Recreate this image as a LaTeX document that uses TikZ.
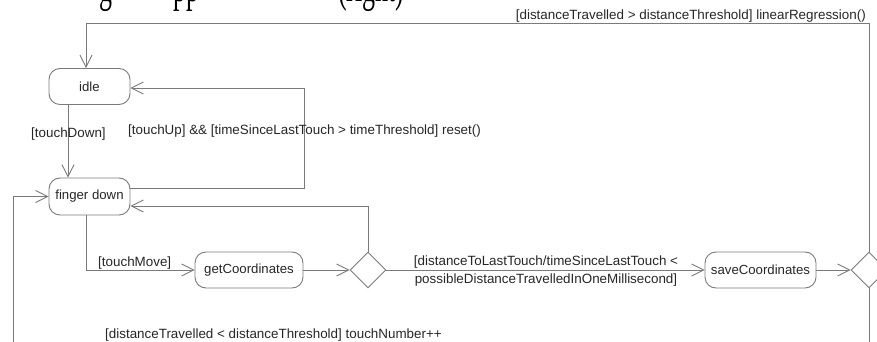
\documentclass[tikz,border=0pt]{standalone}
\usepackage{fontspec}
\setmainfont{Liberation Sans}
\newfontfamily\capfont{Liberation Serif}
\usetikzlibrary{arrows.meta,shapes.geometric}
\definecolor{linegray}{HTML}{7A7A7A}
\definecolor{txt}{HTML}{262626}
\begin{document}
\begin{tikzpicture}[x=1pt,y=-1pt,
  lbl/.style={font=\fontsize{13.4}{18}\selectfont, text=txt, inner sep=0pt},
  state/.style={draw=linegray, line width=0.9pt, rounded corners=11pt,
    minimum height=36pt, inner sep=0pt, font=\fontsize{13.2}{15}\selectfont, text=txt},
  choice/.style={diamond, draw=linegray, line width=0.9pt,
    minimum width=36pt, minimum height=36pt, inner sep=0pt},
  arr/.style={draw=linegray, line width=0.9pt,
    -{Straight Barb[length=12pt,width=12pt,line width=0.9pt]}},
  captail/.style={font=\capfont\fontsize{26}{26}\selectfont,
    anchor=base west, inner sep=0pt, outer sep=0pt, text=black,
    yscale=1.8, transform shape}]
\useasboundingbox (0,0) rectangle (877,342);
\clip (0,0) rectangle (877,342);

% tail of the caption line above, cut by the frame: only descenders remain
\node[captail] (capg) at (99,1.2) {g};
\node[captail] (cappp) at (173,1.2) {pp};
\node[captail] (capr) at (338,1.2) {(right)};

% states
\node[state, minimum width=81pt] (idle) at (89.5,86.5) {idle};
\node[state, minimum width=81pt, minimum height=37pt] (fd) at (89.5,196.5) {finger down};
\node[state, minimum width=108pt] (gc) at (249,270) {getCoordinates};
\node[choice] (d1) at (368,270) {};
\node[state, minimum width=111pt] (sc) at (760.5,270) {saveCoordinates};
\node[choice] (d2) at (869,270) {};

% corner points of the loops
\coordinate (tl) at (86,23);
\coordinate (upr) at (304,188);
\coordinate (bl) at (13,380);

% transitions
\draw[arr] ([xshift=-21.5pt]idle.south) -- ([xshift=-21.5pt]fd.north);
\draw[arr] ([yshift=8.5pt]fd.east) -- (upr) |- ([yshift=-1.5pt]idle.east);
\draw[arr] ([xshift=-3.5pt]fd.south) |- (gc.west);
\draw[arr] (gc.east) -- (d1.west);
\draw[arr] (d1.north) |- ([yshift=-9.5pt]fd.east);
\draw[arr] (d1.east) -- (sc.west);
\draw[arr] (sc.east) -- (d2.west);
\draw[arr] (d2.north) |- (tl) -- (tl |- idle.north);
\draw[arr] (d2.south) |- (bl) |- (fd.west);

% guards
\node[lbl, anchor=east] (g1) at (866,16) {[distanceTravelled > distanceThreshold] linearRegression()};
\node[lbl, anchor=west] (g2) at (31,134) {[touchDown]};
\node[lbl, anchor=west] (g3) at (128,131) {[touchUp] \&\& [timeSinceLastTouch > timeThreshold] reset()};
\node[lbl, anchor=west] (g4) at (98,263) {[touchMove]};
\node[lbl, align=center] (g5) at (546,271) {[distanceToLastTouch/timeSinceLastTouch <\\possibleDistanceTravelledInOneMillisecond]};
\node[lbl, anchor=west] (g6) at (105,335) {[distanceTravelled < distanceThreshold] touchNumber++};
\end{tikzpicture}
\end{document}
